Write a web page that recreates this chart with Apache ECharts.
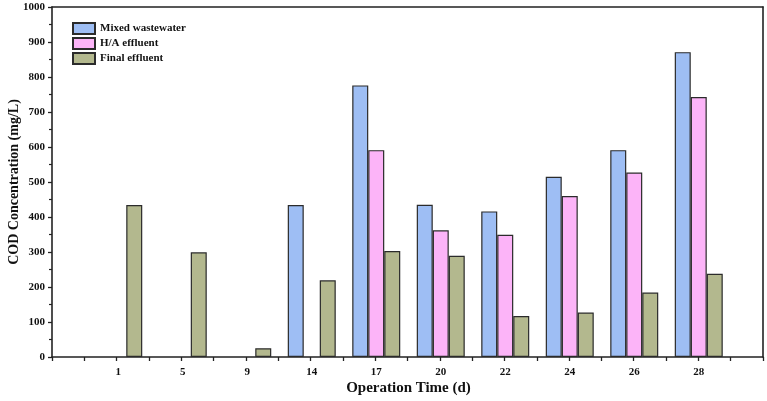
<!DOCTYPE html>
<html>
<head>
<meta charset="utf-8">
<title>COD Concentration</title>
<script src="https://cdn.jsdelivr.net/npm/echarts@6/dist/echarts.min.js"></script>
<style>
  html, body { margin: 0; padding: 0; background: #fff; }
  #main { width: 767px; height: 401px; }
</style>
</head>
<body>
<div id="main"></div>
<script>
// operation days (x categories)
var days = ['1', '5', '9', '14', '17', '20', '22', '24', '26', '28'];

// COD values, mg/L (null = not measured)
var mixedWastewater = [null, null, null, 434, 776, 435, 416, 515, 591, 871];
var haEffluent = [null, null, null, null, 591, 362, 349, 460, 527, 743];
var finalEffluent = [434, 299, 25, 219, 303, 289, 117, 127, 184, 238];

window.onload = function() {
    var chartBox = document.getElementById('main'),
        myChart = echarts.init(chartBox),
        option;

    var font = 'Liberation Serif';
    var lineCol = '#222';
    var edge = '#2b2b2b';

    function barSeries(name, data, color) {
        return {
            name: name,
            type: 'bar',
            xAxisIndex: 2,
            yAxisIndex: 2,
            data: data,
            barWidth: 16,
            barGap: '0%',
            itemStyle: { color: color, borderColor: edge, borderWidth: 1.2 }
        };
    }

    option = {
        animation: false,
        backgroundColor: '#fff',
        legend: {
            orient: 'vertical',
            left: 72,
            top: 22,
            icon: 'rect',
            itemWidth: 22,
            itemHeight: 11,
            itemGap: 2,
            padding: 0,
            textStyle: { fontFamily: font, fontWeight: 'bold', fontSize: 11, color: '#111' },
            data: ['Mixed wastewater', 'H/A effluent', 'Final effluent']
        },
        grid: [
            // frame
            { left: 52, right: 4, top: 7, bottom: 44, outerBoundsMode: 'none', containLabel: false },
            // data area (half a category in from each side)
            { left: 86, right: 36, top: 7, bottom: 44, outerBoundsMode: 'none', containLabel: false }
        ],
        xAxis: [{
            type: 'value', gridIndex: 0, position: 'bottom',
            min: 0, max: 22, interval: 1,
            axisLine: { onZero: false, lineStyle: { color: lineCol, width: 1.6 } },
            axisTick: { show: true, inside: false, length: 4, lineStyle: { color: lineCol, width: 1.3 } },
            axisLabel: { show: false },
            splitLine: { show: false }
        }, {
            type: 'value', gridIndex: 0, position: 'top',
            min: 0, max: 22,
            axisLine: { onZero: false, lineStyle: { color: lineCol, width: 1.6 } },
            axisTick: { show: false },
            axisLabel: { show: false },
            splitLine: { show: false }
        }, {
            type: 'category', gridIndex: 1, data: days,
            axisLine: { show: false },
            axisTick: { show: false },
            axisLabel: { fontFamily: font, fontWeight: 'bold', fontSize: 11, color: '#111', margin: 10 },
            name: 'Operation Time (d)',
            nameLocation: 'middle',
            nameGap: 24,
            nameMoveOverlap: false,
            nameTextStyle: { fontFamily: font, fontWeight: 'bold', fontSize: 15, color: '#111' }
        }],
        yAxis: [{
            type: 'value', gridIndex: 0, position: 'left',
            min: 0, max: 1000, interval: 100,
            axisLine: { show: true, onZero: false, lineStyle: { color: lineCol, width: 1.6 } },
            axisTick: { show: true, inside: false, length: 4, lineStyle: { color: lineCol, width: 1.3 } },
            minorTick: { show: true, splitNumber: 2, length: 3, lineStyle: { color: lineCol, width: 1.2 } },
            axisLabel: {
                fontFamily: font, fontWeight: 'bold', fontSize: 11, color: '#111', margin: 7,
                formatter: function(v) { return String(v); }
            },
            splitLine: { show: false },
            name: 'COD Concentration (mg/L)',
            nameLocation: 'middle',
            nameGap: 31,
            nameMoveOverlap: false,
            nameTextStyle: { fontFamily: font, fontWeight: 'bold', fontSize: 14, color: '#111' }
        }, {
            type: 'value', gridIndex: 0, position: 'right',
            min: 0, max: 1000,
            axisLine: { show: true, onZero: false, lineStyle: { color: lineCol, width: 1.6 } },
            axisTick: { show: false },
            axisLabel: { show: false },
            splitLine: { show: false }
        }, {
            type: 'value', gridIndex: 1,
            min: 0, max: 1000,
            show: false
        }],
        series: [
            barSeries('Mixed wastewater', mixedWastewater, '#9ebef4'),
            barSeries('H/A effluent', haEffluent, '#fcb4f8'),
            barSeries('Final effluent', finalEffluent, '#b3b88e')
        ]
    };

    myChart.setOption(option);
};
</script>
</body>
</html>
